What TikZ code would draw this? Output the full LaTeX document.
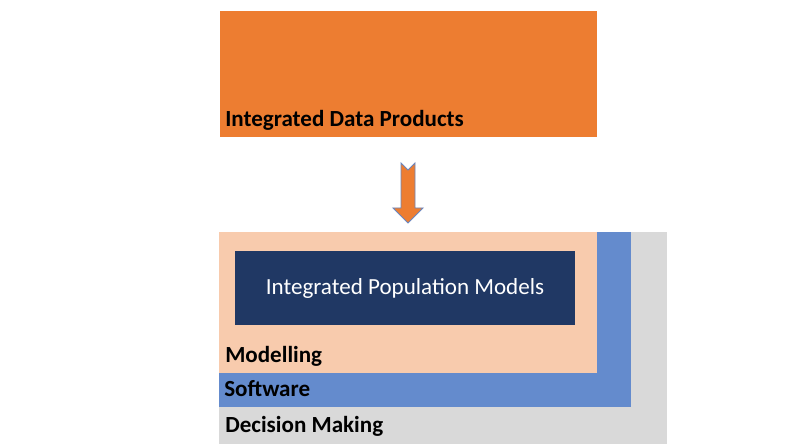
\documentclass[tikz,border=0pt]{standalone}
\usepackage{fontspec}
\setmainfont{Carlito}
\usepackage{xcolor}
\usepackage{tikz}
\usetikzlibrary{calc}

\definecolor{dataorange}{HTML}{ED7D31}
\definecolor{modelpeach}{HTML}{F8CBAD}
\definecolor{softblue}{HTML}{648BCD}
\definecolor{decgray}{HTML}{D9D9D9}
\definecolor{ipmnavy}{HTML}{203864}
\definecolor{arrowedge}{HTML}{6A86BE}

\begin{document}
\begin{tikzpicture}[x=0.025cm, y=-0.025cm,
    layer/.style={anchor=base west, inner sep=0pt, font=\fontsize{16.4}{18}\selectfont\bfseries}]
  \useasboundingbox (0,0) rectangle (790,444);

  \fill[dataorange] (220,11) rectangle (597,137);
  \node[layer] (data) at (225,127) {Integrated Data Products};

  \draw[fill=dataorange, draw=arrowedge, line width=0.6pt]
    (401,163) -- (408,170) -- (415,163) -- (415,208) -- (423,208)
    -- (408,223) -- (393,208) -- (401,208) -- cycle;

  \fill[decgray] (219,232) rectangle (667,444);
  \fill[softblue] (219,232) rectangle (631,407);
  \fill[modelpeach] (219,232) rectangle (597,373);

  \node[fill=ipmnavy, text=white, minimum width=8.5cm, minimum height=1.85cm,
    font=\fontsize{16.4}{18}\selectfont] (ipm) at (405,288) {Integrated Population Models};

  \node[layer] (model) at (225,363) {Modelling};
  \node[layer] (soft) at (224,397) {Software};
  \node[layer] (dec) at (225,433) {Decision Making};
\end{tikzpicture}
\end{document}
